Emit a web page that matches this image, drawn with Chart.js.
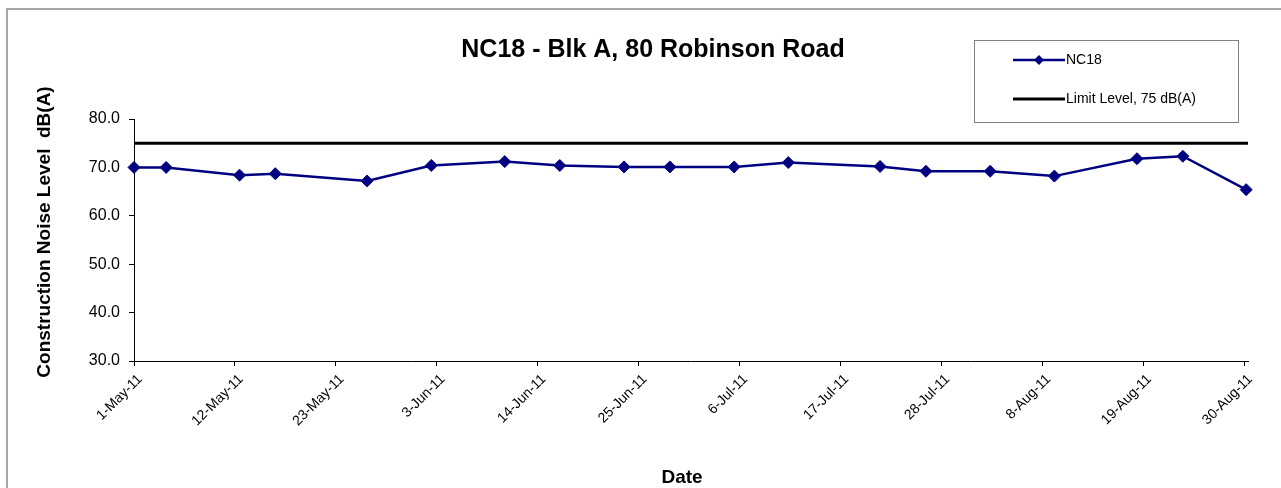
<!DOCTYPE html>
<html>
<head>
<meta charset="utf-8">
<title>NC18 - Blk A, 80 Robinson Road</title>
<script src="https://cdn.jsdelivr.net/npm/chart.js@4.4.1/dist/chart.umd.min.js"></script>
<style>
    html, body { margin: 0; padding: 0; background: #fff; }
    #wrap { width: 1281px; height: 488px; }
</style>
</head>
<body>
<div id="wrap"><canvas id="chart-noise" width="1281" height="488"></canvas></div>
<script>
// --- Data ---
const startDate = new Date(2011, 4, 1);   // day 0 = 1-May-11
const xTicks = [0, 11, 22, 33, 44, 55, 66, 77, 88, 99, 110, 121];
const yTicks = [30, 40, 50, 60, 70, 80];
const noiseDays = [0, 3.5, 11.5, 15.4, 25.4, 32.4, 40.4, 46.4, 53.4, 58.4, 65.4, 71.3, 81.3, 86.3, 93.3, 100.3, 109.3, 114.3, 121.2];
const noiseLevels = [70.0, 70.0, 68.4, 68.7, 67.2, 70.4, 71.2, 70.4, 70.1, 70.1, 70.1, 71.0, 70.2, 69.2, 69.2, 68.2, 71.8, 72.3, 65.4];
const limitLevel = 75;
const xMax = 121.4;

const chartTitle = 'NC18 - Blk A, 80 Robinson Road';
const yTitle = 'Construction Noise Level  dB(A)';
const xTitle = 'Date';
const seriesNames = ['NC18', 'Limit Level, 75 dB(A)'];

const NAVY = '#000080';
const FONT = '"Liberation Sans", Arial, sans-serif';
const months = ['Jan', 'Feb', 'Mar', 'Apr', 'May', 'Jun', 'Jul', 'Aug', 'Sep', 'Oct', 'Nov', 'Dec'];

function dayLabel(v) {
    const d = new Date(startDate.getTime());
    d.setDate(d.getDate() + Math.round(v));
    return `${d.getDate()}-${months[d.getMonth()]}-${String(d.getFullYear()).slice(2)}`;
}

// --- Extras drawn on the canvas: frame, titles, legend box ---
const extras = {
    id: 'extras',
    beforeDraw(chart) {
        const ctx = chart.ctx;
        ctx.save();
        ctx.strokeStyle = '#a6a6a6';
        ctx.lineWidth = 2;
        ctx.strokeRect(7, 9, 1300, 520);
        ctx.restore();
    },
    afterDraw(chart) {
        const ctx = chart.ctx;
        ctx.save();
        ctx.fillStyle = '#000';

        // title
        ctx.font = `bold 25px ${FONT}`;
        ctx.textAlign = 'center';
        ctx.textBaseline = 'alphabetic';
        ctx.fillText(chartTitle, 653, 57);

        // x title
        ctx.font = `bold 19px ${FONT}`;
        ctx.fillText(xTitle, 682, 483);

        // y title
        ctx.save();
        ctx.translate(50, 232);
        ctx.rotate(-Math.PI / 2);
        ctx.fillText(yTitle, 0, 0);
        ctx.restore();

        // legend box
        ctx.fillStyle = '#fff';
        ctx.fillRect(974, 40, 264, 82);
        ctx.strokeStyle = '#808080';
        ctx.lineWidth = 1;
        ctx.strokeRect(974.5, 40.5, 264, 82);

        ctx.strokeStyle = NAVY;
        ctx.lineWidth = 2.5;
        ctx.beginPath();
        ctx.moveTo(1013, 60);
        ctx.lineTo(1065, 60);
        ctx.stroke();
        ctx.fillStyle = NAVY;
        ctx.beginPath();
        ctx.moveTo(1039, 55);
        ctx.lineTo(1044, 60);
        ctx.lineTo(1039, 65);
        ctx.lineTo(1034, 60);
        ctx.closePath();
        ctx.fill();

        ctx.strokeStyle = '#000';
        ctx.lineWidth = 3;
        ctx.beginPath();
        ctx.moveTo(1013, 99);
        ctx.lineTo(1065, 99);
        ctx.stroke();

        ctx.fillStyle = '#000';
        ctx.font = `14px ${FONT}`;
        ctx.textAlign = 'left';
        ctx.textBaseline = 'middle';
        ctx.fillText(seriesNames[0], 1066, 60);
        ctx.fillText(seriesNames[1], 1066, 99);
        ctx.restore();
    }
};

// --- Chart ---
const ctx = document.getElementById('chart-noise').getContext('2d');

new Chart(ctx, {
    type: 'line',
    data: {
        datasets: [{
            label: seriesNames[0],
            data: noiseDays.map((d, i) => ({ x: d, y: noiseLevels[i] })),
            borderColor: NAVY,
            backgroundColor: NAVY,
            borderWidth: 2.5,
            pointStyle: 'rectRot',
            pointRadius: 6,
            pointBorderWidth: 1,
            tension: 0,
            clip: false,
            order: 0
        }, {
            label: seriesNames[1],
            data: [{ x: 0, y: limitLevel }, { x: xMax, y: limitLevel }],
            borderColor: '#000',
            borderWidth: 3,
            pointRadius: 0,
            tension: 0,
            order: 1
        }]
    },
    options: {
        responsive: false,
        animation: false,
        events: [],
        layout: { padding: { left: 0, top: 119, right: 33, bottom: 0 } },
        plugins: {
            legend: { display: false },
            title: { display: false },
            tooltip: { enabled: false }
        },
        scales: {
            x: {
                type: 'linear',
                min: 0,
                max: xMax,
                afterBuildTicks: (scale) => { scale.ticks = xTicks.map(v => ({ value: v })); },
                afterFit: (scale) => { scale.height = 127; },
                border: { display: true, color: '#000', width: 1 },
                grid: { display: true, drawOnChartArea: false, drawTicks: true, tickLength: 5, color: '#000' },
                ticks: {
                    autoSkip: false,
                    maxRotation: 45,
                    minRotation: 45,
                    padding: 5,
                    labelOffset: 6,
                    color: '#000',
                    font: { family: FONT, size: 14 },
                    callback: (v) => dayLabel(v)
                }
            },
            y: {
                min: 30,
                max: 80,
                afterBuildTicks: (scale) => { scale.ticks = yTicks.map(v => ({ value: v })); },
                afterFit: (scale) => { scale.width = 134; },
                border: { display: true, color: '#000', width: 1 },
                grid: { display: true, drawOnChartArea: false, drawTicks: true, tickLength: 5, color: '#000' },
                ticks: {
                    padding: 9,
                    color: '#000',
                    font: { family: FONT, size: 16 },
                    callback: (v) => Number(v).toFixed(1)
                }
            }
        }
    },
    plugins: [extras]
});
</script>
</body>
</html>
